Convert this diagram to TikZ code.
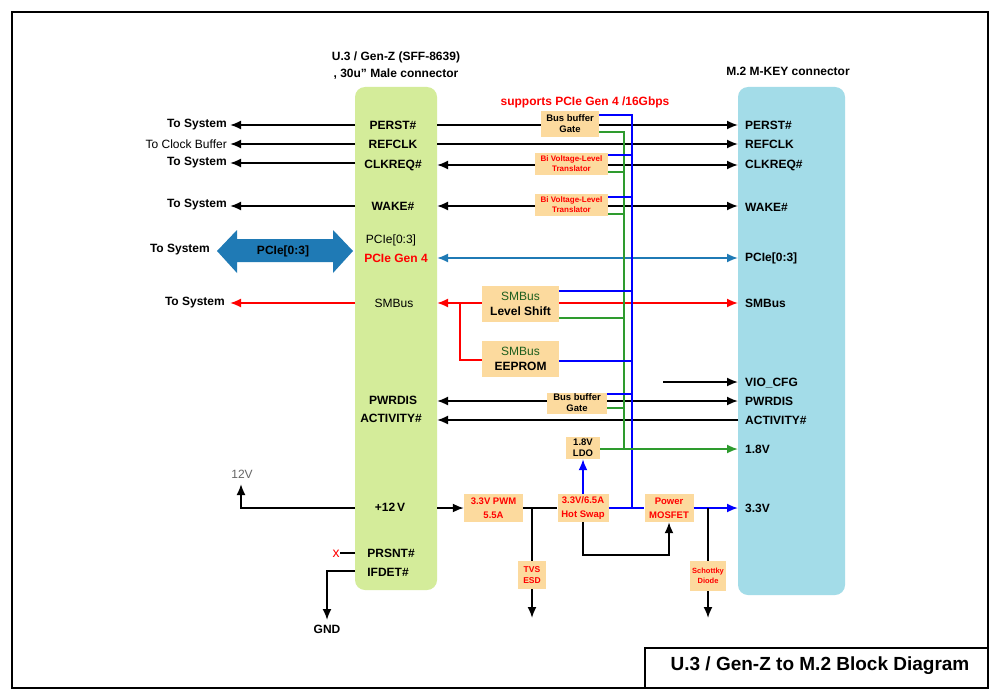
\documentclass[tikz,border=0pt]{standalone}
\usepackage{fontspec}
\setmainfont{Liberation Sans}
\usetikzlibrary{arrows.meta}
\definecolor{cgreen}{HTML}{D4EC9A}
\definecolor{cblue}{HTML}{A3DCE8}
\definecolor{corange}{HTML}{FCDA9E}
\definecolor{pcie}{HTML}{1F7AB5}
\definecolor{lgreen}{HTML}{2E9B2E}
\definecolor{tgreen}{HTML}{1E5E1E}
\tikzset{
  x=1pt,y=-1pt,
  lbl/.style={font=\fontsize{12}{13}\selectfont\bfseries,inner sep=0},
  llbl/.style={lbl,anchor=east},
  rlbl/.style={lbl,anchor=west},
  box/.style={fill=corange,draw=none,inner sep=0,align=center,font=\fontsize{9.5}{11}\selectfont\bfseries},
  rbox/.style={box,text=red,font=\fontsize{8.5}{11}\selectfont\bfseries},
  tip/.style={-{Latex[length=11pt,width=9pt]}},
  dtip/.style={{Latex[length=11pt,width=9pt]}-{Latex[length=11pt,width=9pt]}},
  ln/.style={line width=1.8pt},
}
\begin{document}
\begin{tikzpicture}
\useasboundingbox (0,0) rectangle (1000,698);
\fill[white] (0,0) rectangle (1000,698);
\draw[line width=2.2pt] (12,12) rectangle (988,688);
\draw[line width=1.8pt] (645,688) -- (645,648) -- (988,648);
\node[font=\fontsize{19}{22}\selectfont\bfseries] (title) at (820,666) {U.3 / Gen-Z to M.2 Block Diagram};

% connectors boxes
\node[fill=cgreen,rounded corners=10pt,minimum width=82pt,minimum height=503pt,inner sep=0] (u3) at (396,338.5) {};
\node[fill=cblue,rounded corners=10pt,minimum width=107pt,minimum height=508pt,inner sep=0] (m2) at (791.5,341) {};
\node[lbl,align=center] (u3t) at (396,66) {U.3 / Gen-Z (SFF-8639)\\[4pt], 30u'' Male connector};
\node[lbl] (m2t) at (788,71) {M.2 M-KEY connector};
\node[lbl,text=red] (sup) at (585,102) {supports PCIe Gen 4 /16Gbps};

% U.3 labels
\node[lbl] (uperst) at (393,125) {PERST\#};
\node[lbl] (urefclk) at (393,144) {REFCLK};
\node[lbl] (uclk) at (393,165) {CLKREQ\#};
\node[lbl] (uwake) at (393,206) {WAKE\#};
\node[lbl,font=\fontsize{12}{13}\selectfont] (upcie) at (391,240) {PCIe[0:3]};
\node[lbl,text=red] (ugen) at (396,258) {PCIe Gen 4};
\node[lbl,font=\fontsize{12}{13}\selectfont] (usmb) at (394,303) {SMBus};
\node[lbl] (upwr) at (393,400) {PWRDIS};
\node[lbl] (uact) at (391,418) {ACTIVITY\#};
\node[lbl] (u12) at (390,507) {+12\,V};
\node[lbl] (uprs) at (391,553) {PRSNT\#};
\node[lbl] (uifd) at (388,572) {IFDET\#};

% M.2 labels
\node[rlbl] (mperst) at (745,125) {PERST\#};
\node[rlbl] (mrefclk) at (745,144) {REFCLK};
\node[rlbl] (mclk) at (745,165) {CLKREQ\#};
\node[rlbl] (mwake) at (745,207) {WAKE\#};
\node[rlbl] (mpcie) at (745,258) {PCIe[0:3]};
\node[rlbl] (msmb) at (745,303) {SMBus};
\node[rlbl] (mvio) at (745,383) {VIO\_CFG};
\node[rlbl] (mpwr) at (745,401) {PWRDIS};
\node[rlbl] (mact) at (745,420) {ACTIVITY\#};
\node[rlbl] (m18) at (745,449) {1.8V};
\node[rlbl] (m33) at (745,508) {3.3V};

% left labels
\node[llbl] (s1) at (227,125) {To System};
\node[llbl,font=\fontsize{12}{13}\selectfont] (s2) at (227,144) {To Clock Buffer};
\node[llbl] (s3) at (227,163) {To System};
\node[llbl] (s4) at (227,205) {To System};
\node[llbl] (s5) at (210,250) {To System};
\node[llbl] (s6) at (225,303) {To System};

% left arrows
\draw[ln,tip] (355,125) -- (230,125);
\draw[ln,tip] (355,144) -- (230,144);
\draw[ln,tip] (355,163) -- (230,163);
\draw[ln,tip] (355,206) -- (230,206);
\draw[ln,red,tip] (355,303) -- (230,303);
\fill[pcie] (217,251) -- (237,230) -- (237,239) -- (333,239) -- (333,230) -- (353,251) -- (333,273) -- (333,262) -- (237,262) -- (237,273) -- cycle;
\node[lbl] (bigt) at (283,251) {PCIe[0:3]};

% right signal lines
\draw[ln,tip] (437,125) -- (738,125);
\draw[ln,tip] (437,144) -- (738,144);
\draw[ln,dtip] (437,165) -- (738,165);
\draw[ln,dtip] (437,206) -- (738,206);
\draw[ln,pcie,dtip] (437,258) -- (738,258);
\draw[ln,red,dtip] (437,303) -- (738,303);
\draw[ln,red] (460,303) -- (460,360) -- (482,360);
\draw[ln,tip] (663,382) -- (738,382);
\draw[ln,dtip] (437,401) -- (738,401);
\draw[ln,tip] (738,420) -- (437,420);

% bus stubs
\draw[ln,blue] (599,115) -- (632,115) -- (632,508);
\draw[ln,lgreen] (599,132) -- (624,132) -- (624,449);
\foreach \b/\g in {155/172,197/214,394/408}{
  \draw[ln,blue] (590,\b) -- (632,\b);
  \draw[ln,lgreen] (590,\g) -- (624,\g);}
\draw[ln,blue] (559,291) -- (632,291);
\draw[ln,lgreen] (559,318) -- (624,318);
\draw[ln,blue] (559,361) -- (632,361);
\draw[ln,lgreen,tip] (600,449) -- (738,449);

% boxes
\node[box,minimum width=58pt,minimum height=26pt] (bb1) at (570,124) {Bus buffer\\Gate};
\node[rbox,minimum width=73pt,minimum height=22pt,font=\fontsize{8}{10}\selectfont\bfseries] (t1) at (571.5,164) {Bi Voltage-Level\\Translator};
\node[rbox,minimum width=73pt,minimum height=22pt,font=\fontsize{8}{10}\selectfont\bfseries] (t2) at (571.5,205) {Bi Voltage-Level\\Translator};
\node[box,minimum width=77pt,minimum height=36pt,font=\fontsize{12}{15}\selectfont\bfseries] (ls) at (520.5,304) {\textcolor{tgreen}{\mdseries SMBus}\\Level Shift};
\node[box,minimum width=77pt,minimum height=36pt,font=\fontsize{12}{15}\selectfont\bfseries] (ee) at (520.5,359) {\textcolor{tgreen}{\mdseries SMBus}\\EEPROM};
\node[box,minimum width=60pt,minimum height=21pt] (bb2) at (577,403) {Bus buffer\\Gate};
\node[box,minimum width=34pt,minimum height=22pt] (ldo) at (583,448) {1.8V\\LDO};
\node[rbox,minimum width=59pt,minimum height=28pt,font=\fontsize{9.5}{14}\selectfont\bfseries] (pwm) at (493.5,508) {3.3V PWM\\5.5A};
\node[rbox,minimum width=51pt,minimum height=28pt,font=\fontsize{9.5}{14}\selectfont\bfseries] (hs) at (583,508) {3.3V/6.5A\\Hot Swap};
\node[rbox,minimum width=49pt,minimum height=28pt,font=\fontsize{9.5}{14}\selectfont\bfseries] (mos) at (669,508) {Power\\MOSFET};
\node[rbox,minimum width=28pt,minimum height=28pt] (tvs) at (532,575) {TVS\\ESD};
\node[rbox,minimum width=36pt,minimum height=30pt,font=\fontsize{7.5}{10}\selectfont\bfseries] (sch) at (708,576) {Schottky\\Diode};

% power path
\draw[ln,tip] (437,508) -- (pwm.west);
\draw[ln] (pwm.east) -- (hs.west);
\draw[ln] (532,508) -- (tvs.north);
\draw[ln,tip] (tvs.south) -- (532,618);
\draw[ln,blue] (hs.east) -- (mos.west);
\draw[ln,blue,tip] (mos.east) -- (738,508);
\draw[ln] (708,508) -- (sch.north);
\draw[ln,tip] (sch.south) -- (708,618);
\draw[ln,tip] (hs.south) -- (583,555) -- (669,555) -- (mos.south);
\draw[ln,blue,tip] (hs.north) -- (ldo.south);

% left power
\node[font=\fontsize{12}{13}\selectfont,text=black!60,inner sep=0] (v12) at (242,474) {12V};
\draw[ln,tip] (355,508) -- (241,508) -- (241,484);
\draw[ln] (355,553) -- (340,553);
\node[text=red,font=\fontsize{14}{14}\selectfont,inner sep=0] (x) at (336,554) {x};
\draw[ln,tip] (355,571) -- (327,571) -- (327,620);
\node[lbl] (gnd) at (327,629) {GND};
\end{tikzpicture}
\end{document}
